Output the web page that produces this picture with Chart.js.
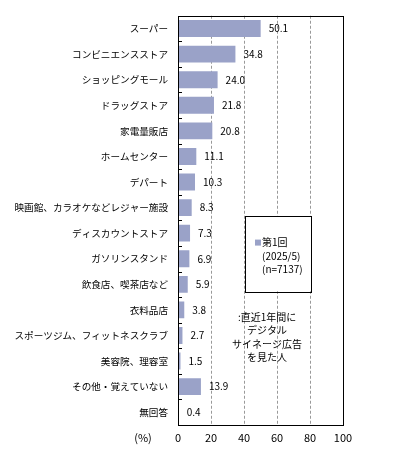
<!DOCTYPE html>
<html>
<head>
<meta charset="utf-8">
<script src="https://cdn.jsdelivr.net/npm/chart.js@4"></script>
<style>
    body { margin: 0; background: #fff; }
    #wrap { width: 399px; height: 454px; }
</style>
</head>
<body>
<div id="wrap"><canvas id="grafico" width="399" height="454"></canvas></div>
<script>
// dati
const categorie = ['スーパー', 'コンビニエンスストア', 'ショッピングモール', 'ドラッグストア', '家電量販店',
    'ホームセンター', 'デパート', '映画館、カラオケなどレジャー施設', 'ディスカウントストア', 'ガソリンスタンド',
    '飲食店、喫茶店など', '衣料品店', 'スポーツジム、フィットネスクラブ', '美容院、理容室', 'その他・覚えていない', '無回答'];
const valori = [50.1, 34.8, 24.0, 21.8, 20.8, 11.1, 10.3, 8.3, 7.3, 6.9, 5.9, 3.8, 2.7, 1.5, 13.9, 0.4];
const tickX = [0, 20, 40, 60, 80, 100];
const legenda = ['第1回', '(2025/5)', '(n=7137)'];
const nota = [':直近1年間に', 'デジタル', 'サイネージ広告', 'を見た人'];
const unita = '(%)';

const colore = '#9aa2c8';
const font = '"Noto Sans CJK JP", "Noto Sans", sans-serif';

// etichette, cornice, legenda e nota
const extra = {
    id: 'extra',
    afterDatasetsDraw(chart) {
        let ctx = chart.ctx;
        let area = chart.chartArea;
        let x = chart.scales.x;
        let y = chart.scales.y;
        ctx.save();

        // cornice
        ctx.strokeStyle = '#000';
        ctx.lineWidth = 1;
        ctx.strokeRect(Math.round(area.left) + 0.5, Math.round(area.top) + 0.5,
            Math.round(area.right - area.left), Math.round(area.bottom - area.top));

        // tacche asse y
        for (let i = 0; i < categorie.length - 1; i++) {
            let yy = Math.round((y.getPixelForValue(i) + y.getPixelForValue(i + 1)) / 2) + 0.5;
            ctx.beginPath();
            ctx.moveTo(area.left, yy);
            ctx.lineTo(area.left + 4, yy);
            ctx.stroke();
        }

        // valori
        ctx.fillStyle = '#000';
        ctx.font = '10px ' + font;
        ctx.textBaseline = 'middle';
        ctx.textAlign = 'left';
        chart.getDatasetMeta(0).data.forEach((bar, i) => {
            ctx.fillText(valori[i].toFixed(1), bar.x + 8, bar.y);
        });

        // legenda
        let lx = x.getPixelForValue(40) + 1;
        let rx = x.getPixelForValue(80) + 1;
        let ty = y.getPixelForValue(7) + 8;
        let by = y.getPixelForValue(10) + 7;
        ctx.fillStyle = '#fff';
        ctx.fillRect(lx, ty, rx - lx, by - ty);
        ctx.strokeStyle = '#000';
        ctx.strokeRect(Math.round(lx) + 0.5, Math.round(ty) + 0.5, Math.round(rx - lx), Math.round(by - ty));
        ctx.fillStyle = colore;
        ctx.fillRect(lx + 10, ty + 24, 6, 6);
        ctx.fillStyle = '#000';
        ctx.textAlign = 'left';
        legenda.forEach((t, i) => {
            ctx.fillText(t, lx + 17, ty + 27 + i * 13.5);
        });

        // nota
        ctx.textAlign = 'center';
        let cx = x.getPixelForValue(54);
        nota.forEach((t, i) => {
            ctx.fillText(t, cx, y.getPixelForValue(11) + 7 + i * 13.5);
        });

        // unita
        ctx.font = '11px ' + font;
        ctx.fillText(unita, area.left - 35, area.bottom + 13);
        ctx.restore();
    }
};

new Chart(document.getElementById('grafico'), {
    type: 'bar',
    data: {
        labels: categorie,
        datasets: [{
            data: valori,
            backgroundColor: colore,
            borderWidth: 0,
            barPercentage: 0.66,
            categoryPercentage: 1
        }]
    },
    options: {
        indexAxis: 'y',
        responsive: false,
        animation: false,
        layout: { padding: { top: 14, right: 56, bottom: 6, left: 0 } },
        plugins: {
            legend: { display: false },
            tooltip: { enabled: false }
        },
        scales: {
            x: {
                min: 0,
                max: 100,
                afterBuildTicks: s => { s.ticks = tickX.map(v => ({ value: v })); },
                afterFit: s => { s.height = 23; },
                grid: {
                    color: ctx => (ctx.tick.value === 0 || ctx.tick.value === 100) ? 'rgba(0,0,0,0)' : '#999',
                    drawTicks: false
                },
                border: { display: false, dash: [3, 2] },
                ticks: {
                    color: '#000',
                    font: { size: 11, family: font },
                    padding: 6,
                    maxRotation: 0
                }
            },
            y: {
                afterFit: s => { s.width = 178; },
                grid: { display: false, drawTicks: false },
                border: { display: false },
                ticks: {
                    color: '#000',
                    font: { size: 9.6, family: font },
                    padding: 10,
                    autoSkip: false
                }
            }
        }
    },
    plugins: [extra]
});
</script>
</body>
</html>
